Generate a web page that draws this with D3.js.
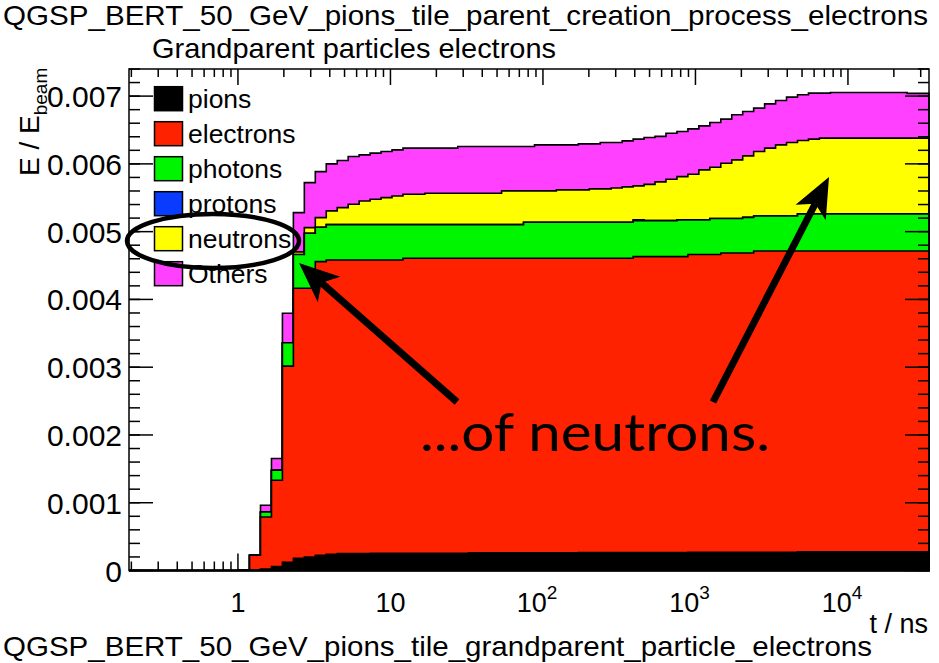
<!DOCTYPE html>
<html>
<head>
<meta charset="utf-8">
<script src="https://cdn.jsdelivr.net/npm/d3@7/dist/d3.min.js"></script>
<style>
  body { margin: 0; background: #fff; }
  text { font-family: "Liberation Sans", Arial, Helvetica, sans-serif; fill: #000; }
</style>
</head>
<body>
<svg id="chart" width="939" height="663"></svg>
<script>
// Time axis range (ns) and number of log-spaced bins of the histograms
const timeRange = [0.193, 34000];
const nBins = 73;
const energyMax = 0.0074;

// Legend / stacking order (bottom to top)
const categories = ["pions", "electrons", "photons", "protons", "neutrons", "Others"];
const colors = ["#000000", "#ff2200", "#00f500", "#0a3cff", "#ffff00", "#ff40ff"];

// Cumulative deposited energy per bin, in units of 1e-3 E/E_beam
const pionsE3 = [0,0,0,0,0,0,0,0,0,0,
  0.005,0.01,0.02,0.06,0.12,0.18,0.20,0.225,0.24,0.25,0.25,0.25,
  0.255,0.255,0.255,0.255,0.255,0.255,0.255,0.255,0.255,
  0.26,0.26,0.26,0.26,0.26,0.26,0.26,0.26,0.26,0.26,
  0.265,0.265,0.265,0.265,0.265,0.265,0.265,0.265,0.265,0.265,
  0.27,0.27,0.27,0.27,0.27,0.27,0.27,0.27,0.27,0.27,
  0.275,0.275,0.275,0.275,0.275,0.275,0.275,0.275,0.275,0.275,0.275,0.275];
const electronsE3 = [0,0,0,0,0,0,0,0,0,0,0,
  0.2145,0.770,1.272,2.896,3.984,3.964,4.332,4.342,4.332,4.332,4.332,4.327,4.327,4.327,
  4.352,4.352,4.352,4.352,4.352,4.352,
  4.347,4.347,4.347,4.347,4.347,4.347,4.347,4.347,4.347,4.347,
  4.342,4.342,4.342,4.342,4.342,
  4.366,4.366,4.366,4.366,4.366,
  4.393,4.393,4.393,
  4.415,4.415,4.415,
  4.445,4.445,4.445,4.445,
  4.440,4.440,4.440,4.440,4.440,4.440,4.440,4.440,4.440,4.440,4.440,4.440];
const photonsE3 = [0,0,0,0,0,0,0,0,0,0,0,0,
  0.074,0.148,0.344,0.499,0.812,0.508,
  0.521,0.521,0.521,0.521,0.521,0.521,0.521,
  0.496,0.496,0.496,0.496,0.496,0.496,0.496,0.496,0.496,0.496,0.496,
  0.532,0.532,0.532,0.532,0.532,0.532,0.532,0.532,0.532,0.532,
  0.531,0.531,0.531,0.531,0.542,0.510,0.510,0.532,0.510,0.510,0.525,
  0.517,0.517,0.517,0.517,
  0.547,0.547,0.547,0.547,0.547,0.547,0.547,0.547,0.547,0.547,0.547,0.547];
const protonsE3 = [0,0,0,0,0,0,0,0,0,0,0,0,0,0,0,0,0,0,0,0,0,0,0,0,0,0,0,0,0,0,
  0,0,0,0,0,0,0,0,0,0,0,0,0,0,0,0,0.012,0,0,0,0,0,0,0,0,0,0,0,0,0,
  0,0,0,0,0,0,0,0,0,0,0,0,0];
const neutronsE3 = [0,0,0,0,0,0,0,0,0,0,0,0,0,0,0,
  0.038,0.083,0.142,0.203,0.252,0.302,0.350,0.376,0.399,0.424,0.449,0.449,
  0.464,0.464,0.464,0.464,0.464,0.464,0.464,
  0.498,0.498,0.462,0.462,0.462,0.477,0.477,0.477,0.492,0.492,
  0.506,0.521,0.501,0.535,0.572,0.612,0.639,0.675,0.738,0.756,0.815,0.864,0.908,
  0.950,1.000,1.049,1.083,1.082,1.103,
  1.118,1.118,1.118,1.118,1.118,1.118,1.118,1.118,1.118,1.118];
const othersE3 = [0,0,0,0,0,0,0,0,0,0,0,0,
  0.099,0.173,0.435,0.580,0.665,0.679,0.694,0.694,0.703,0.680,0.679,0.680,0.680,0.680,0.680,
  0.665,0.665,0.665,0.689,0.689,0.689,0.689,0.655,0.655,0.655,0.680,0.680,0.665,0.665,
  0.679,0.664,0.684,0.670,0.680,0.690,0.692,0.672,0.679,0.665,0.669,0.650,0.659,0.650,
  0.665,0.655,0.641,0.654,0.654,0.670,0.675,0.679,0.664,
  0.673,0.673,0.673,0.673,0.673,0.673,0.673,0.661,0.661];

// Axis ticks and labels
const xMajorTicks = [1, 10, 100, 1000, 10000];
const xTickLabels = [["1", ""], ["10", ""], ["10", "2"], ["10", "3"], ["10", "4"]];
const yMajorTicks = [0, 0.001, 0.002, 0.003, 0.004, 0.005, 0.006, 0.007];
const yTickLabels = ["0", "0.001", "0.002", "0.003", "0.004", "0.005", "0.006", "0.007"];

const titleText = "QGSP_BERT_50_GeV_pions_tile_parent_creation_process_electrons";
const subtitleText = "Grandparent particles electrons";
const footerText = "QGSP_BERT_50_GeV_pions_tile_grandparent_particle_electrons";
const noteText = "...of neutrons.";

// ---------------------------------------------------------------
const svg = d3.select("#chart");
const frame = { left: 129, right: 929, top: 69, bottom: 570.5 };

const x = d3.scaleLog().domain(timeRange).range([frame.left, frame.right]);
const y = d3.scaleLinear().domain([0, energyMax]).range([frame.bottom, frame.top]);

// log-spaced bin edges across the axis range
const lo = Math.log10(timeRange[0]), hi = Math.log10(timeRange[1]);
const edges = d3.range(nBins + 1).map(i => Math.pow(10, lo + (hi - lo) * i / nBins));

const seriesE3 = [pionsE3, electronsE3, photonsE3, protonsE3, neutronsE3, othersE3];
const rows = d3.range(nBins).map(i => {
  const r = { bin: i };
  categories.forEach((c, j) => r[c] = seriesE3[j][i] * 1e-3);
  return r;
});
const stacked = d3.stack().keys(categories)(rows);

// Each cumulative histogram drawn filled from zero with a black outline,
// the total first, then the lower partial sums on top of it.
function histPoints(layer) {
  const pts = [[edges[0], 0]];
  layer.forEach((d, i) => {
    pts.push([edges[i], d[1]]);
    pts.push([edges[i + 1], d[1]]);
  });
  pts.push([edges[nBins], 0]);
  return pts;
}
const plot = svg.append("g");
const histPath = d3.line().x(p => x(p[0])).y(p => y(p[1]));
for (let j = categories.length - 1; j >= 0; j--) {
  plot.append("path")
    .attr("d", histPath(histPoints(stacked[j])) + "Z")
    .attr("fill", colors[j])
    .attr("stroke", "#000")
    .attr("stroke-width", 1.6)
    .attr("stroke-linejoin", "miter");
}

// Frame
svg.append("rect")
  .attr("x", frame.left).attr("y", frame.top)
  .attr("width", frame.right - frame.left).attr("height", frame.bottom - frame.top)
  .attr("fill", "none").attr("stroke", "#000").attr("stroke-width", 1.5);

// X ticks (log): on bottom and top edges, pointing inwards
const ticks = svg.append("g").attr("stroke", "#000").attr("stroke-width", 1.5);
const xMinor = [];
for (let e = -1; e <= 4; e++) for (let m = 2; m <= 9; m++) {
  const v = m * Math.pow(10, e);
  if (v >= timeRange[0] && v <= timeRange[1]) xMinor.push(v);
}
xMinor.forEach(v => {
  ticks.append("line").attr("x1", x(v)).attr("x2", x(v)).attr("y1", frame.bottom).attr("y2", frame.bottom - 9);
  ticks.append("line").attr("x1", x(v)).attr("x2", x(v)).attr("y1", frame.top).attr("y2", frame.top + 8);
});
xMajorTicks.forEach(v => {
  ticks.append("line").attr("x1", x(v)).attr("x2", x(v)).attr("y1", frame.bottom).attr("y2", frame.bottom - 17);
  ticks.append("line").attr("x1", x(v)).attr("x2", x(v)).attr("y1", frame.top).attr("y2", frame.top + 16);
});

// Y ticks: on left and right edges
const yMinor = d3.range(0, energyMax + 1e-9, 0.0002);
yMinor.forEach(v => {
  ticks.append("line").attr("y1", y(v)).attr("y2", y(v)).attr("x1", frame.left).attr("x2", frame.left + 11);
  ticks.append("line").attr("y1", y(v)).attr("y2", y(v)).attr("x1", frame.right).attr("x2", frame.right - 11);
});
yMajorTicks.forEach(v => {
  ticks.append("line").attr("y1", y(v)).attr("y2", y(v)).attr("x1", frame.left).attr("x2", frame.left + 24);
  ticks.append("line").attr("y1", y(v)).attr("y2", y(v)).attr("x1", frame.right).attr("x2", frame.right - 24);
});

// Y tick labels
svg.append("g").selectAll("text").data(yMajorTicks).join("text")
  .attr("x", 122).attr("y", v => y(v) + 11)
  .attr("text-anchor", "end")
  .attr("font-size", 30)
  .text((v, i) => yTickLabels[i]);

// X tick labels with superscript exponents
const xl = svg.append("g");
xMajorTicks.forEach((v, i) => {
  const [base, exp] = xTickLabels[i];
  const t = xl.append("text")
    .attr("x", x(v) + (exp ? -6 : 0)).attr("y", 612)
    .attr("text-anchor", "middle").attr("font-size", 27);
  t.append("tspan").text(base);
  if (exp) t.append("tspan").attr("dy", -13).attr("font-size", 19).text(exp);
});

// Axis titles
svg.append("text").attr("x", 928).attr("y", 633).attr("text-anchor", "end")
  .attr("font-size", 27).text("t / ns");
const yt = svg.append("text").attr("transform", "translate(39,176) rotate(-90)")
  .attr("font-size", 28);
yt.append("tspan").text("E / E");
yt.append("tspan").attr("dy", 8).attr("font-size", 19).text("beam");

// Titles
svg.append("text").attr("x", 3).attr("y", 25).attr("font-size", 28)
  .attr("textLength", 925).attr("lengthAdjust", "spacingAndGlyphs").text(titleText);
svg.append("text").attr("x", 152).attr("y", 58).attr("font-size", 28)
  .attr("textLength", 404).attr("lengthAdjust", "spacingAndGlyphs").text(subtitleText);
svg.append("text").attr("x", 3).attr("y", 656).attr("font-size", 28)
  .attr("textLength", 869).attr("lengthAdjust", "spacingAndGlyphs").text(footerText);

// Legend
const legend = svg.append("g");
categories.forEach((c, i) => {
  const cy = 98.7 + i * 35;
  legend.append("rect").attr("x", 154.5).attr("y", cy - 12).attr("width", 28).attr("height", 24)
    .attr("fill", colors[i]).attr("stroke", "#000").attr("stroke-width", 1.5);
  legend.append("text").attr("x", 188).attr("y", cy + 9).attr("font-size", 26.5).text(c);
});

// Annotation: ellipse around the neutrons entry, arrows and note
const ann = svg.append("g");
ann.append("ellipse").attr("cx", 213).attr("cy", 241).attr("rx", 86).attr("ry", 27)
  .attr("fill", "none").attr("stroke", "#000").attr("stroke-width", 4.5);

function arrow(x0, y0, x1, y1) {
  const dx = x1 - x0, dy = y1 - y0, L = Math.hypot(dx, dy);
  const ux = dx / L, uy = dy / L, px = -uy, py = ux;
  const head = 40, half = 17, notch = 30;
  const bx = x1 - ux * notch, by = y1 - uy * notch;
  ann.append("line").attr("x1", x0).attr("y1", y0).attr("x2", bx).attr("y2", by)
    .attr("stroke", "#000").attr("stroke-width", 7);
  const hx = x1 - ux * head, hy = y1 - uy * head;
  ann.append("path")
    .attr("d", `M${x1},${y1}L${hx + px * half},${hy + py * half}L${bx},${by}L${hx - px * half},${hy - py * half}Z`)
    .attr("fill", "#000");
}
arrow(457, 402, 299, 263);
arrow(713, 402, 829, 177);

ann.append("text").attr("x", 420).attr("y", 451)
  .style("font-family", "Lato, 'Open Sans', sans-serif").attr("font-size", 52)
  .attr("textLength", 350).attr("lengthAdjust", "spacingAndGlyphs").text(noteText);
</script>
</body>
</html>
